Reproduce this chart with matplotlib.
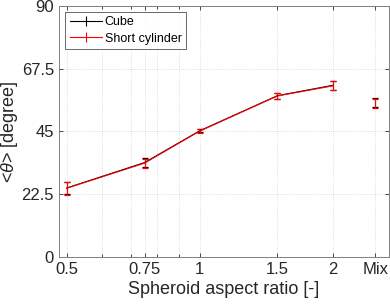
import numpy as np
import matplotlib.pyplot as plt
from matplotlib.lines import Line2D
from matplotlib.ticker import FixedLocator, NullFormatter

plt.rcParams['font.family'] = ['Liberation Sans', 'DejaVu Sans']
plt.rcParams['mathtext.fontset'] = 'custom'
plt.rcParams['mathtext.it'] = 'Liberation Sans:italic'

# aspect ratios (Mix is placed at 2.5 on the log axis)
aspect = [0.5, 0.75, 1, 1.5, 2]
x_mix = 2.5
tick_pos = [0.5, 0.75, 1, 1.5, 2, 2.5]
tick_lab = ['0.5', '0.75', '1', '1.5', '2', 'Mix']

cube_mean = [24.7, 33.8, 45.2, 57.8, 61.5]
cube_err = [2.2, 1.5, 0.5, 1.1, 1.6]
cube_mix = 55.3
cube_mix_err = 1.7

cyl_mean = [24.6, 33.6, 45.1, 57.7, 61.3]
cyl_err = [2.3, 1.6, 0.6, 1.2, 1.6]
cyl_mix = 55.1
cyl_mix_err = 1.6

fig = plt.figure(figsize=(3.9, 3.08), dpi=100)
ax = fig.add_axes([0.151, 0.166, 0.846, 0.815])

kw = dict(lw=0.8, capsize=2.5, elinewidth=0.8, capthick=0.9)
ax.errorbar(aspect, cube_mean, yerr=cube_err, color='black', **kw)
ax.errorbar([x_mix], [cube_mix], yerr=[cube_mix_err], color='black', **kw)
ax.errorbar(aspect, cyl_mean, yerr=cyl_err, color='red', **kw)
ax.errorbar([x_mix], [cyl_mix], yerr=[cyl_mix_err], color='red', **kw)

ax.set_xscale('log')
ax.set_xlim(0.48, 2.68)
ax.set_ylim(0, 90)
ax.xaxis.set_major_locator(FixedLocator(tick_pos))
ax.set_xticklabels(tick_lab)
ax.xaxis.set_minor_locator(FixedLocator([0.6, 0.7, 0.8, 0.9]))
ax.xaxis.set_minor_formatter(NullFormatter())
ax.set_yticks([0, 22.5, 45, 67.5, 90])
ax.set_yticklabels(['0', '22.5', '45', '67.5', '90'])

ax.grid(True, which='both', linestyle=':', color='#d4d4d4', lw=0.6)
ax.tick_params(which='both', direction='in', top=True, right=True,
               colors='#262626', labelsize=12, length=3, width=0.6)
ax.tick_params(which='minor', length=2)
for s in ax.spines.values():
    s.set_color('#808080')
    s.set_linewidth(0.7)

ax.set_xlabel('Spheroid aspect ratio [-]', fontsize=13, color='#262626', labelpad=3)
ax.set_ylabel(r'<$\theta$> [degree]', fontsize=13, color='#262626', labelpad=1)

handles = [Line2D([], [], color='black', lw=0.8, marker='|', markersize=7, markeredgewidth=0.8),
           Line2D([], [], color='red', lw=0.8, marker='|', markersize=7, markeredgewidth=0.8)]
leg = ax.legend(handles, ['Cube', 'Short cylinder'], loc='upper left', fontsize=9,
                frameon=True, fancybox=False, edgecolor='#262626', handlelength=2.6,
                borderpad=0.35, labelspacing=0.35, handletextpad=0.2, borderaxespad=0.5)
leg.get_frame().set_linewidth(0.6)

fig.savefig('out.png', dpi=100)
